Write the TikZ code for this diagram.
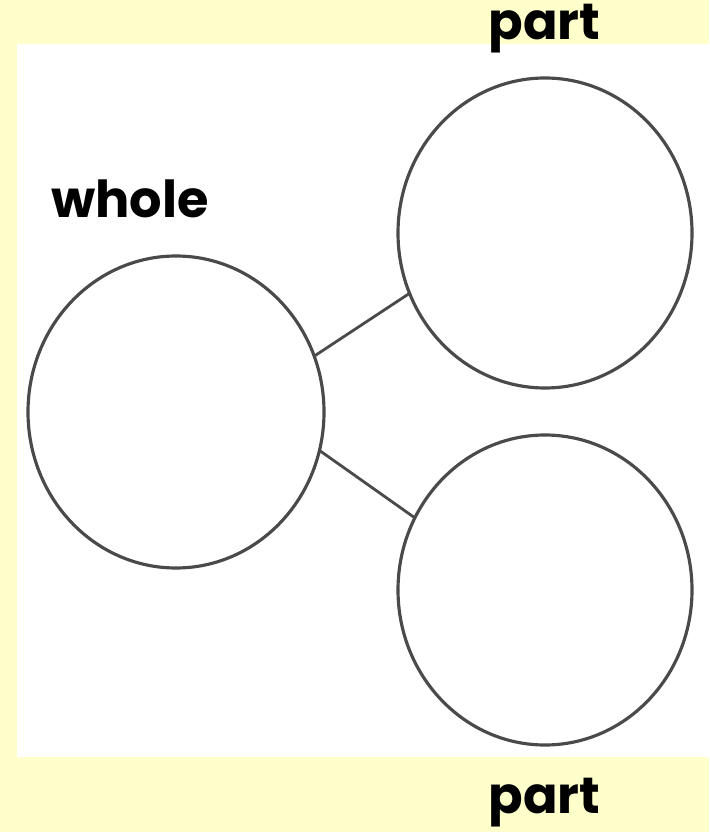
\documentclass[tikz,border=0pt]{standalone}
\usepackage{fontspec}
\setsansfont{Poppins}
\usepackage{tikz}
\usetikzlibrary{shapes.geometric}
\definecolor{paleyellow}{HTML}{FFFFCC}
\definecolor{ringgray}{HTML}{4A4A4A}
\tikzset{
  ring/.style={draw=ringgray, ellipse, line width=1.8pt, fill=white, inner sep=0pt, outer sep=0pt},
  link/.style={draw=ringgray, line width=1.6pt},
  label/.style={font=\sffamily\bfseries\fontsize{29}{34}\selectfont, anchor=base, inner sep=0pt}
}
\begin{document}
\begin{tikzpicture}
\fill[paleyellow] (0,0) rectangle (14.18,-16.64);
\fill[white] (0.34,-0.88) rectangle (14.18,-15.14);
\node[ring, minimum width=5.92cm, minimum height=6.24cm] (whole) at (3.52,-8.24) {};
\node[ring, minimum width=5.88cm, minimum height=6.2cm] (top) at (10.90,-4.66) {};
\node[ring, minimum width=5.88cm, minimum height=6.2cm] (bottom) at (10.90,-11.80) {};
\draw[link] (whole.22) -- (top.204);
\draw[link] (whole.-15) -- (bottom.151);
\node[label] (wholetext) at (2.60,-4.36) {whole};
\node[label] (toptext) at (10.89,-0.80) {part};
\node[label] (bottomtext) at (10.89,-16.26) {part};
\end{tikzpicture}
\end{document}
